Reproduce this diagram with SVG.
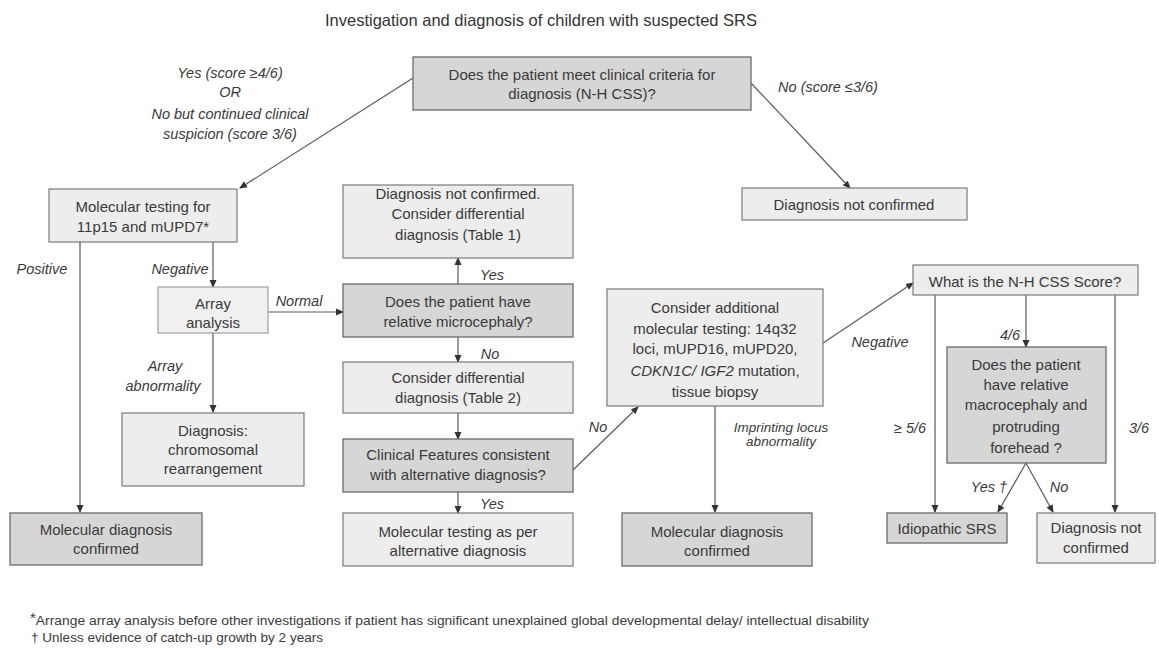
<svg xmlns="http://www.w3.org/2000/svg" width="1159" height="650" viewBox="0 0 1159 650">
<style>
.bg{fill:#ffffff}
.dk{fill:#d6d6d6;stroke:#6a6a6a;stroke-width:1.3}
.lt{fill:#ededed;stroke:#7a7a7a;stroke-width:1.2}
.xl{fill:#f0f0f0;stroke:#a0a0a0;stroke-width:1.2}
text{font-family:"Liberation Sans",Arial,sans-serif;fill:#3a3a3a;font-size:15px;text-anchor:middle}
.t{font-size:16.5px;fill:#333}
.lab{font-style:italic;font-size:14.5px}
.sm{font-size:13.5px}
.fn{font-size:12px;text-anchor:start}
.c{stroke:#5a5a5a;stroke-width:1.2;fill:none;marker-end:url(#ah)}
</style>
<defs>
<marker id="ah" markerWidth="8" markerHeight="8" refX="7" refY="4" orient="auto" markerUnits="userSpaceOnUse">
<path d="M0,0.5 L8,4 L0,7.5 Z" fill="#333"/>
</marker>
</defs>
<rect class="bg" x="0" y="0" width="1159" height="650"/>
<text class="t" x="541" y="26">Investigation and diagnosis of children with suspected SRS</text>

<g id="connectors">
<line class="c" x1="413" y1="78" x2="240" y2="188"/>
<line class="c" x1="751" y1="83" x2="850" y2="188"/>
<line class="c" x1="80" y1="242" x2="80" y2="512"/>
<line class="c" x1="213" y1="242" x2="213" y2="287"/>
<line class="c" x1="268" y1="312" x2="343" y2="312"/>
<line class="c" x1="213" y1="333" x2="213" y2="412"/>
<line class="c" x1="458" y1="284" x2="458" y2="258"/>
<line class="c" x1="458" y1="337" x2="458" y2="362"/>
<line class="c" x1="458" y1="413" x2="458" y2="439"/>
<line class="c" x1="458" y1="492" x2="458" y2="513"/>
<line class="c" x1="573" y1="470" x2="638" y2="407"/>
<line class="c" x1="715" y1="406" x2="715" y2="512"/>
<line class="c" x1="823" y1="343" x2="913" y2="283"/>
<line class="c" x1="935" y1="295" x2="935" y2="512"/>
<line class="c" x1="1026" y1="295" x2="1026" y2="347"/>
<line class="c" x1="1115" y1="295" x2="1115" y2="512"/>
<line class="c" x1="1026" y1="463" x2="998" y2="512"/>
<line class="c" x1="1026" y1="463" x2="1053" y2="512"/>
</g>

<g id="labels">
<text class="lab" x="230" y="78">Yes (score ≥4/6)</text>
<text class="lab" x="230" y="97">OR</text>
<text class="lab" x="230" y="119">No but continued clinical</text>
<text class="lab" x="230" y="139">suspicion (score 3/6)</text>
<text class="lab" x="828" y="92">No (score ≤3/6)</text>
<text class="lab" x="42" y="274">Positive</text>
<text class="lab" x="180" y="274">Negative</text>
<text class="lab" x="299" y="306">Normal</text>
<text class="lab" x="165" y="371">Array</text>
<text class="lab" x="163" y="391">abnormality</text>
<text class="lab" x="492" y="280">Yes</text>
<text class="lab" x="490" y="359">No</text>
<text class="lab" x="492" y="509">Yes</text>
<text class="lab" x="598" y="432">No</text>
<text class="lab sm" x="781" y="432">Imprinting locus</text>
<text class="lab sm" x="781" y="446">abnormality</text>
<text class="lab" x="880" y="347">Negative</text>
<text class="lab" x="1010" y="340">4/6</text>
<text class="lab" x="910" y="433">≥ 5/6</text>
<text class="lab" x="1139" y="433">3/6</text>
<text class="lab" x="989" y="492">Yes †</text>
<text class="lab" x="1059" y="492">No</text>
</g>

<g id="n-top"><rect class="dk" x="413" y="57" width="338" height="53"/>
<text x="582" y="80">Does the patient meet clinical criteria for</text>
<text x="582" y="99">diagnosis (N-H CSS)?</text></g>

<g id="n-mol"><rect class="lt" x="49" y="189" width="188" height="53"/>
<text x="143" y="212">Molecular testing for</text>
<text x="143" y="232">11p15 and mUPD7*</text></g>

<g id="n-notconf1"><rect class="lt" x="742" y="188" width="225" height="32"/>
<text x="854" y="210">Diagnosis not confirmed</text></g>

<g id="n-array"><rect class="xl" x="158" y="287" width="110" height="46"/>
<text x="213" y="309">Array</text>
<text x="213" y="328">analysis</text></g>

<g id="n-chrom"><rect class="lt" x="122" y="413" width="182" height="73"/>
<text x="213" y="436">Diagnosis:</text>
<text x="213" y="455">chromosomal</text>
<text x="213" y="474">rearrangement</text></g>

<g id="n-molconf1"><rect class="dk" x="10" y="513" width="192" height="52"/>
<text x="106" y="535">Molecular diagnosis</text>
<text x="106" y="554">confirmed</text></g>

<g id="n-table1"><rect class="lt" x="343" y="185" width="230" height="73"/>
<text x="458" y="199">Diagnosis not confirmed.</text>
<text x="458" y="219">Consider differential</text>
<text x="458" y="240">diagnosis (Table 1)</text></g>

<g id="n-micro"><rect class="dk" x="343" y="284" width="230" height="53"/>
<text x="458" y="307">Does the patient have</text>
<text x="458" y="327">relative microcephaly?</text></g>

<g id="n-table2"><rect class="lt" x="343" y="362" width="230" height="51"/>
<text x="458" y="383">Consider differential</text>
<text x="458" y="403">diagnosis (Table 2)</text></g>

<g id="n-clin"><rect class="dk" x="343" y="439" width="230" height="53"/>
<text x="458" y="460">Clinical Features consistent</text>
<text x="458" y="480">with alternative diagnosis?</text></g>

<g id="n-alt"><rect class="lt" x="343" y="513" width="230" height="53"/>
<text x="458" y="537">Molecular testing as per</text>
<text x="458" y="556">alternative diagnosis</text></g>

<g id="n-add"><rect class="lt" x="607" y="289" width="216" height="117"/>
<text x="715" y="313">Consider additional</text>
<text x="715" y="334">molecular testing: 14q32</text>
<text x="715" y="354">loci, mUPD16, mUPD20,</text>
<text x="715" y="376"><tspan font-style="italic">CDKN1C/ IGF2</tspan> mutation,</text>
<text x="715" y="397">tissue biopsy</text></g>

<g id="n-molconf2"><rect class="dk" x="622" y="513" width="190" height="53"/>
<text x="717" y="537">Molecular diagnosis</text>
<text x="717" y="556">confirmed</text></g>

<g id="n-score"><rect class="lt" x="913" y="265" width="225" height="30"/>
<text x="1025" y="287">What is the N-H CSS Score?</text></g>

<g id="n-macro"><rect class="dk" x="947" y="347" width="159" height="116"/>
<text x="1026" y="370">Does the patient</text>
<text x="1026" y="390">have relative</text>
<text x="1026" y="410">macrocephaly and</text>
<text x="1026" y="432">protruding</text>
<text x="1026" y="453">forehead ?</text></g>

<g id="n-idio"><rect class="dk" x="887" y="513" width="120" height="30"/>
<text x="947" y="534">Idiopathic SRS</text></g>

<g id="n-notconf2"><rect class="lt" x="1037" y="513" width="118" height="50"/>
<text x="1096" y="533">Diagnosis not</text>
<text x="1096" y="553">confirmed</text></g>

<g id="footnotes">
<text class="fn" x="30" y="625"><tspan font-size="15px" dy="-2">*</tspan><tspan dy="2" textLength="833" lengthAdjust="spacingAndGlyphs">Arrange array analysis before other investigations if patient has significant unexplained global developmental delay/ intellectual disability</tspan></text>
<text class="fn" x="31" y="642" textLength="292" lengthAdjust="spacingAndGlyphs">† Unless evidence of catch-up growth by 2 years</text>
</g>
</svg>
